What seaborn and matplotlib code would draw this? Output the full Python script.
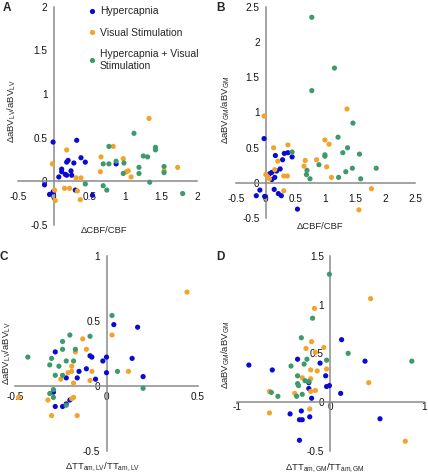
import pandas as pd
import numpy as np
import matplotlib
matplotlib.use('Agg')
import matplotlib.pyplot as plt
import seaborn as sns

sns.set_style('white')
plt.rcParams['font.family'] = ['Liberation Sans', 'DejaVu Sans']
plt.rcParams['mathtext.fontset'] = 'custom'
plt.rcParams['mathtext.rm'] = 'Liberation Sans'
plt.rcParams['mathtext.it'] = 'Liberation Sans:italic'

# ---- data ----
groups = ['Hypercapnia', 'Visual Stimulation', 'Hypercapnia + Visual\nStimulation']
colors = ['#0a0ad2', '#f2a42a', '#3c9a6c']

# Panel A: dCBF/CBF vs daBV_LV/aBV_LV
a_hyp_x = [-0.01, 0.32, 0.38, 0.44, 0.18, 0.20, 0.28, 0.11, 0.11, 0.24, 0.25, 0.16, 0.18, 0.07, -0.13, -0.06, -0.01, 0.30, 0.87, 0.54]
a_hyp_y = [0.45, 0.47, 0.27, 0.22, 0.22, 0.24, 0.21, 0.14, 0.11, 0.12, 0.07, 0.08, 0.07, 0.05, -0.04, -0.15, -0.12, -0.10, 0.20, -0.16]
a_vis_x = [-0.02, 0.18, 0.01, 0.02, 0.15, 0.22, 0.31, 0.38, 0.37, 0.33, 0.66, 0.65, 0.83, 0.97, 1.01, 1.04, 1.08, 1.33, 1.54, 1.73]
a_vis_y = [0.20, 0.36, -0.10, -0.22, -0.08, -0.08, 0.04, 0.04, -0.21, -0.11, 0.28, 0.11, 0.40, 0.26, 0.11, 0.12, 0.05, 0.72, 0.12, 0.16]
a_both_x = [0.44, 0.69, 0.74, 0.69, 0.77, 0.77, 0.87, 0.98, 0.97, 1.12, 1.19, 1.19, 1.25, 1.31, 1.34, 1.42, 1.42, 1.54, 1.54, 1.80]
a_both_y = [-0.03, -0.05, -0.10, 0.20, 0.20, 0.40, 0.23, 0.21, 0.09, 0.55, 0.16, 0.09, 0.29, 0.28, -0.01, 0.39, 0.36, 0.17, 0.10, -0.14]

# Panel B: dCBF/CBF vs daBV_GM/aBV_GM
b_hyp_x = [-0.03, 0.31, 0.37, 0.44, 0.16, 0.28, 0.24, 0.18, 0.10, 0.06, 0.15, 0.10, 0.14, 0.21, 0.26, -0.10, -0.16, -0.02, 0.53]
b_hyp_y = [0.63, 0.42, 0.43, 0.37, 0.39, 0.33, 0.20, 0.17, 0.15, 0.13, 0.08, 0.05, -0.09, -0.15, -0.18, -0.10, -0.18, -0.19, -0.37]
b_vis_x = [-0.03, 0.13, 0.37, 0.20, 0.15, 0.00, 0.03, 0.06, 0.30, 0.36, 0.30, 0.66, 0.64, 0.85, 0.99, 1.06, 1.02, 1.10, 1.36, 1.77, 1.56]
b_vis_y = [0.95, 0.50, 0.54, 0.31, 0.19, 0.12, 0.09, 0.06, 0.10, 0.10, -0.11, 0.32, 0.24, 0.33, 0.61, 0.55, 0.23, 0.08, 1.05, -0.08, -0.38]
b_both_x = [0.44, 0.69, 0.74, 0.68, 0.89, 0.99, 0.99, 1.21, 1.29, 1.22, 0.77, 1.15, 0.77, 1.46, 1.37, 1.57, 1.34, 1.45, 1.85, 1.59]
b_both_y = [0.44, 0.18, 0.06, 0.12, 0.26, 0.38, 0.40, 0.65, 0.43, 0.08, 2.35, 1.63, 1.31, 0.85, 0.50, 0.41, 0.16, 0.21, 0.21, 0.06]

# Panel C: dTT_am,LV/TT_am,LV vs daBV_LV/aBV_LV
c_hyp_x = [-0.28, -0.09, -0.08, -0.02, 0.00, 0.00, -0.06, -0.11, -0.15, -0.16, -0.22, 0.04, 0.17, 0.14, 0.20, -0.29, -0.28, -0.24, -0.22, -0.20]
c_hyp_y = [0.26, 0.23, 0.22, 0.19, 0.22, 0.10, 0.05, 0.13, 0.11, 0.06, 0.06, 0.47, 0.45, 0.21, 0.07, -0.05, -0.16, -0.16, -0.14, -0.11]
c_vis_x = [0.44, 0.03, -0.13, -0.11, -0.17, -0.19, -0.21, -0.19, -0.08, -0.25, -0.18, -0.09, 0.12, -0.32, -0.30, -0.18, -0.19, -0.16, -0.48]
c_vis_y = [0.72, 0.39, 0.36, 0.28, 0.26, 0.15, 0.10, 0.11, 0.11, 0.05, 0.02, 0.04, 0.11, -0.11, -0.23, -0.09, -0.10, -0.23, -0.09]
c_both_x = [-0.43, -0.31, -0.30, -0.24, -0.20, -0.24, -0.26, -0.28, -0.24, -0.22, -0.18, -0.17, -0.09, 0.03, 0.06, 0.20, -0.31, -0.29, -0.29, -0.22]
c_both_y = [0.22, 0.16, 0.21, 0.34, 0.39, 0.28, 0.15, 0.08, 0.08, 0.19, 0.19, 0.28, 0.38, 0.54, 0.11, -0.02, -0.06, -0.03, -0.09, -0.15]

# Panel D: dTT_am,GM/TT_am,GM vs daBV_GM/aBV_GM
d_hyp_x = [-0.87, -0.62, -0.35, -0.11, 0.12, 0.37, -0.05, -0.04, -0.01, 0.11, -0.23, -0.20, -0.23, -0.43, -0.31, -0.33, -0.30, -0.22, -0.33, 0.53]
d_hyp_y = [0.38, 0.33, 0.44, 0.40, 0.64, 0.42, 0.27, 0.16, 0.17, 0.09, 0.14, 0.04, 0.20, -0.12, -0.09, -0.18, -0.18, -0.15, -0.39, -0.17]
d_vis_x = [0.43, -0.17, -0.20, -0.26, -0.07, -0.16, -0.04, -0.21, -0.14, -0.30, -0.21, 0.41, -0.16, -0.21, -0.38, -0.65, -0.65, -0.22, 0.80]
d_vis_y = [1.06, 0.96, 0.62, 0.55, 0.56, 0.51, 0.34, 0.33, 0.32, 0.25, 0.24, 0.20, 0.12, 0.11, 0.09, 0.11, -0.11, -0.07, -0.40]
d_both_x = [-0.01, -0.19, -0.31, 0.19, 0.87, -0.04, -0.25, -0.28, -0.42, -0.35, -0.35, -0.34, -0.27, -0.23, -0.30, -0.36, -0.63, -0.56]
d_both_y = [1.31, 0.86, 0.66, 0.50, 0.42, 0.43, 0.44, 0.39, 0.37, 0.27, 0.19, 0.17, 0.22, 0.21, 0.08, 0.06, 0.10, 0.06]

bv_lv = 'ΔaBV$_{\\rm LV}$/aBV$_{\\rm LV}$'
bv_gm = 'ΔaBV$_{\\rm GM}$/aBV$_{\\rm GM}$'
panels = [
    dict(letter='A', data=[(a_hyp_x, a_hyp_y), (a_vis_x, a_vis_y), (a_both_x, a_both_y)],
         xlim=(-0.5, 2), ylim=(-0.5, 2), xticks=[-0.5, 0, 0.5, 1, 1.5, 2], yticks=[-0.5, 0, 0.5, 1, 1.5, 2],
         xlabel='ΔCBF/CBF', ylabel=bv_lv, box=(18, 197, 6.7, 225), xl=(0.48, -0.005), yl=(0.0, 0.52), pad=6),
    dict(letter='B', data=[(b_hyp_x, b_hyp_y), (b_vis_x, b_vis_y), (b_both_x, b_both_y)],
         xlim=(-0.5, 2.5), ylim=(-0.5, 2.5), xticks=[-0.5, 0, 0.5, 1, 1.5, 2, 2.5], yticks=[-0.5, 0, 0.5, 1, 1.5, 2, 2.5],
         xlabel='ΔCBF/CBF', ylabel=bv_gm, box=(236, 415, 6.7, 218.3), xl=(0.47, -0.017), yl=(-0.022, 0.51), pad=6),
    dict(letter='C', data=[(c_hyp_x, c_hyp_y), (c_vis_x, c_vis_y), (c_both_x, c_both_y)],
         xlim=(-0.5, 0.5), ylim=(-0.5, 1), xticks=[-0.5, 0, 0.5], yticks=[-0.5, 0, 0.5, 1],
         xlabel='ΔTT$_{\\rm am,LV}$/TT$_{\\rm am,LV}$', ylabel=bv_lv, box=(15, 198, 255.7, 450.7),
         xl=(0.48, -0.053), yl=(-0.01, 0.5), pad=2.5),
    dict(letter='D', data=[(d_hyp_x, d_hyp_y), (d_vis_x, d_vis_y), (d_both_x, d_both_y)],
         xlim=(-1, 1), ylim=(-0.5, 1.5), xticks=[-1, 0, 1], yticks=[-0.5, 0, 0.5, 1, 1.5],
         xlabel='ΔTT$_{\\rm am,GM}$/TT$_{\\rm am,GM}$', ylabel=bv_gm, box=(236.7, 424, 255.7, 451),
         xl=(0.47, -0.056), yl=(-0.025, 0.49), pad=-2),
]

W, H = 428, 475
fig = plt.figure(figsize=(W / 100, H / 100), dpi=100)
axis_col = '#8a8a8a'
fs = 7.2
lfs = 6.8

for p in panels:
    l, r, t, b = p['box']
    ax = fig.add_axes([l / W, 1 - b / H, (r - l) / W, (b - t) / H])
    rows = []
    for g, (xs, ys) in zip(groups, p['data']):
        rows += [{'x': x, 'y': y, 'group': g} for x, y in zip(xs, ys)]
    df = pd.DataFrame(rows)
    sns.scatterplot(data=df, x='x', y='y', hue='group', hue_order=groups, palette=colors,
                    s=14, linewidth=0, ax=ax, legend=(p['letter'] == 'A'), zorder=3)
    ax.set_xlim(p['xlim'])
    ax.set_ylim(p['ylim'])
    ax.set_xticks(p['xticks'])
    ax.set_yticks(p['yticks'])
    ax.set_xticklabels(['%g' % v for v in p['xticks']])
    ax.set_yticklabels(['%g' % v for v in p['yticks']])
    for side in ['top', 'right']:
        ax.spines[side].set_visible(False)
    for side in ['left', 'bottom']:
        ax.spines[side].set_position('zero')
        ax.spines[side].set_color(axis_col)
        ax.spines[side].set_linewidth(1.1)
    ax.patch.set_alpha(0)
    ax.tick_params(axis='x', direction='out', length=2, width=0.8, color=axis_col,
                   pad=p['pad'], labelsize=fs, labelcolor='#111111')
    ax.tick_params(axis='y', direction='out', length=2, width=0.8, color=axis_col,
                   pad=2.5, labelsize=fs, labelcolor='#111111')
    ax.set_xlabel(p['xlabel'], fontsize=lfs)
    ax.set_ylabel(p['ylabel'], fontsize=lfs)
    ax.xaxis.set_label_coords(*p['xl'])
    ax.yaxis.set_label_coords(*p['yl'])
    fig.text((l - 15 if p['letter'] in 'AC' else l - 20) / W, 1 - (t - 5) / H, p['letter'],
             fontsize=8.5, fontweight='bold', ha='left', va='top')
    if p['letter'] == 'A':
        handles, labels = ax.get_legend_handles_labels()
        ax.get_legend().remove()
        fig.legend(handles, labels, loc='upper left', bbox_to_anchor=(78 / W, 1 + 1 / H),
                   frameon=False, fontsize=7.5, handletextpad=0.2, labelspacing=1.1,
                   handlelength=1.2, borderpad=0.2, markerscale=1.0)

fig.savefig('out.png', dpi=100)
